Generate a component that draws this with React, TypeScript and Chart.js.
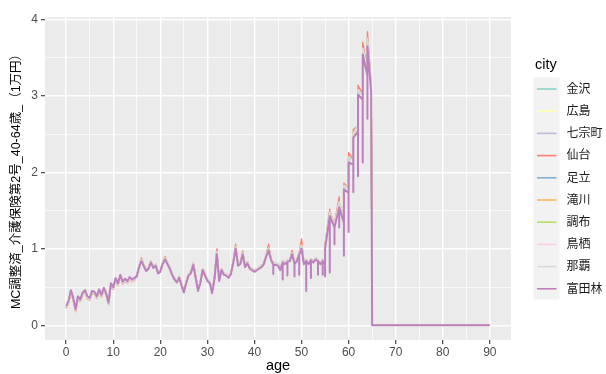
import React, { useEffect, useRef } from 'react';
import { Chart, registerables } from 'chart.js';

Chart.register(...registerables);

const cities = ['金沢', '広島', '七宗町', '仙台', '足立', '滝川', '調布', '鳥栖', '那覇', '富田林'];
const cityColors = ['#8DD3C7', '#FFFFB3', '#BEBADA', '#FB8072', '#80B1D3', '#FDB462', '#B3DE69', '#FCCDE5', '#D9D9D9', '#BC80BD'];

const ages = [
  0, 0.5, 1, 1.5, 2, 2.5, 3, 3.5, 4, 4.5,
  5, 5.5, 6, 6.5, 7, 7.5, 8, 8.5, 9, 9.5,
  10, 10.5, 11, 11.5, 12, 12.5, 13, 13.5, 14, 14.5,
  15, 15.5, 16, 16.5, 17, 17.5, 18, 18.5, 19, 19.5,
  20, 20.5, 21, 21.5, 22, 22.5, 23, 23.5, 24, 24.5,
  25, 25.5, 26, 26.5, 27, 27.5, 28, 28.5, 29, 29.5,
  30, 30.5, 31, 31.5, 32, 32.5, 33, 33.5, 34, 34.5,
  35, 35.5, 36, 36.5, 37, 37.5, 38, 38.5, 39, 39.5,
  40, 40.5, 41, 41.5, 42, 42.5, 43, 43.5, 44, 44.5,
  45, 45.5, 46, 46.5, 47, 47.5, 48, 48.5, 49, 49.5,
  50, 50.5, 51, 51.5, 52, 52.5, 53, 53.5, 54, 54.5,
  55, 55, 56, 56, 57, 57, 58, 58, 59, 59, 60, 60, 61, 61, 62, 62, 63, 63, 64, 64, 64.8, 65,
  70, 75, 80, 85, 90,
];

// 富田林 (drawn on top)
const tondabayashiValues = [
  0.25, 0.32, 0.46, 0.36, 0.21, 0.38, 0.34, 0.43, 0.46, 0.38,
  0.36, 0.45, 0.44, 0.38, 0.47, 0.40, 0.49, 0.42, 0.30, 0.55,
  0.50, 0.62, 0.55, 0.66, 0.57, 0.61, 0.58, 0.63, 0.60, 0.62,
  0.64, 0.76, 0.84, 0.77, 0.71, 0.74, 0.82, 0.75, 0.78, 0.68,
  0.70, 0.80, 0.86, 0.80, 0.74, 0.66, 0.60, 0.56, 0.62, 0.52,
  0.43, 0.55, 0.65, 0.68, 0.79, 0.62, 0.45, 0.55, 0.72, 0.65,
  0.58, 0.55, 0.42, 0.60, 0.93, 0.58, 0.72, 0.66, 0.65, 0.62,
  0.67, 0.82, 1.00, 0.78, 0.80, 0.93, 0.76, 0.81, 0.74, 0.72,
  0.70, 0.72, 0.74, 0.76, 0.80, 0.90, 0.98, 0.86, 0.79, 0.79,
  0.78, 0.72, 0.82, 0.80, 0.83, 0.84, 0.93, 0.80, 0.84, 0.92,
  1.00, 0.80, 0.84, 0.80, 0.85, 0.82, 0.86, 0.84, 0.80, 0.84,
  0.80, 1.00, 1.43, 1.43, 1.28, 1.28, 1.54, 1.54, 1.34, 1.78, 1.73, 2.13, 2.10, 2.45, 2.54, 3.02, 2.95, 3.54, 3.26, 3.65, 3.05, 0,
  0, 0, 0, 0, 0,
];
// 富田林 short downward spikes
const tondaSpikeAges = [44, 46, 47, 48.5, 49.5, 51, 52, 53.5, 54.5, 55, 56, 57, 58, 59, 60, 61, 62, 63, 64];
const tondaSpikeLows = [0.67, 0.60, 0.65, 0.64, 0.66, 0.45, 0.62, 0.66, 0.66, 0.64, 0.69, 1.06, 1.28, 0.91, 1.22, 1.74, 1.95, 2.13, 2.70];

// 仙台 (tops out above the others at the peaks)
const sendaiValues = [
  0.22, 0.29, 0.43, 0.33, 0.18, 0.35, 0.31, 0.40, 0.43, 0.35,
  0.33, 0.42, 0.41, 0.35, 0.44, 0.37, 0.46, 0.39, 0.27, 0.52,
  0.47, 0.59, 0.52, 0.63, 0.54, 0.58, 0.55, 0.60, 0.57, 0.59,
  0.66, 0.78, 0.88, 0.79, 0.73, 0.76, 0.84, 0.77, 0.80, 0.70,
  0.72, 0.82, 0.90, 0.82, 0.76, 0.68, 0.62, 0.58, 0.64, 0.54,
  0.45, 0.57, 0.67, 0.70, 0.82, 0.64, 0.47, 0.57, 0.74, 0.67,
  0.60, 0.57, 0.44, 0.62, 1.00, 0.60, 0.74, 0.68, 0.67, 0.64,
  0.69, 0.84, 1.06, 0.80, 0.82, 0.97, 0.78, 0.83, 0.76, 0.74,
  0.72, 0.74, 0.76, 0.78, 0.82, 0.92, 1.06, 0.88, 0.81, 0.81,
  0.80, 0.74, 0.84, 0.82, 0.85, 0.86, 0.98, 0.82, 0.86, 0.95,
  1.13, 0.82, 0.86, 0.82, 0.87, 0.84, 0.88, 0.86, 0.82, 0.86,
  0.82, 1.06, 1.52, 1.50, 1.32, 1.33, 1.68, 1.61, 1.40, 1.86, 1.79, 2.26, 2.16, 2.56, 2.61, 3.14, 3.02, 3.70, 3.34, 3.84, 3.12, 0,
  0, 0, 0, 0, 0,
];

// the remaining cities (lines overlap almost completely)
const otherCityValues = [
  0.23, 0.30, 0.44, 0.34, 0.19, 0.36, 0.32, 0.41, 0.44, 0.36,
  0.34, 0.43, 0.42, 0.36, 0.45, 0.38, 0.47, 0.40, 0.28, 0.53,
  0.48, 0.60, 0.53, 0.64, 0.55, 0.59, 0.56, 0.61, 0.58, 0.60,
  0.66, 0.78, 0.86, 0.79, 0.73, 0.76, 0.84, 0.77, 0.80, 0.70,
  0.72, 0.82, 0.88, 0.82, 0.76, 0.68, 0.62, 0.58, 0.64, 0.54,
  0.45, 0.57, 0.67, 0.70, 0.81, 0.64, 0.47, 0.57, 0.74, 0.67,
  0.60, 0.57, 0.44, 0.62, 0.96, 0.60, 0.74, 0.68, 0.67, 0.64,
  0.69, 0.84, 1.03, 0.80, 0.82, 0.95, 0.78, 0.83, 0.76, 0.74,
  0.72, 0.74, 0.76, 0.78, 0.82, 0.92, 1.01, 0.88, 0.81, 0.81,
  0.80, 0.74, 0.84, 0.82, 0.85, 0.86, 0.95, 0.82, 0.86, 0.94,
  1.05, 0.82, 0.86, 0.82, 0.87, 0.84, 0.88, 0.86, 0.82, 0.86,
  0.82, 1.04, 1.48, 1.48, 1.32, 1.32, 1.61, 1.61, 1.40, 1.83, 1.79, 2.20, 2.16, 2.51, 2.61, 3.08, 3.02, 3.62, 3.34, 3.75, 3.12, 0,
  0, 0, 0, 0, 0,
];

const xTickValues = [0, 5, 10, 15, 20, 25, 30, 35, 40, 45, 50, 55, 60, 65, 70, 75, 80, 85, 90];
const yTickValues = [0, 0.5, 1, 1.5, 2, 2.5, 3, 3.5, 4];

const FONT = "'Liberation Sans', 'Noto Sans CJK JP', Arial, sans-serif";

function buildPoints(values: number[], spikeAges?: number[], spikeLows?: number[]) {
  const pts: { x: number; y: number }[] = [];
  const used: boolean[] = [];
  ages.forEach((a, i) => {
    pts.push({ x: a, y: values[i] });
    if (spikeAges && spikeLows) {
      const k = spikeAges.indexOf(a);
      if (k >= 0 && !used[k]) {
        used[k] = true;
        pts.push({ x: a, y: spikeLows[k] });
        pts.push({ x: a, y: values[i] });
      }
    }
  });
  return pts;
}

const panelPlugin = {
  id: 'ggPanel',
  beforeDraw(chart: any) {
    const { ctx, chartArea: a } = chart;
    ctx.save();
    ctx.fillStyle = '#FFFFFF';
    ctx.fillRect(0, 0, chart.width, chart.height);
    ctx.fillStyle = '#EBEBEB';
    ctx.fillRect(a.left, a.top, a.right - a.left, a.bottom - a.top);
    ctx.restore();
  },
  afterDraw(chart: any) {
    const { ctx } = chart;
    ctx.save();
    ctx.fillStyle = '#000000';
    ctx.font = `14.5px ${FONT}`;
    ctx.textAlign = 'left';
    ctx.textBaseline = 'alphabetic';
    ctx.fillText('city', 535, 68.5);
    const keyX = 533.5;
    const keyTop = 77.5;
    const step = 22.2;
    ctx.fillStyle = '#F2F2F2';
    ctx.fillRect(keyX, keyTop, 26, step * cities.length);
    cities.forEach((c, i) => {
      const y = 89 + i * step;
      ctx.strokeStyle = cityColors[i];
      ctx.lineWidth = 1.6;
      ctx.beginPath();
      ctx.moveTo(537, y);
      ctx.lineTo(556.5, y);
      ctx.stroke();
      ctx.fillStyle = '#1A1A1A';
      ctx.font = `12px ${FONT}`;
      ctx.textBaseline = 'middle';
      ctx.fillText(c, 566.5, y + 0.5);
    });
    ctx.restore();
  },
};

export default function App() {
  const ref = useRef<HTMLCanvasElement | null>(null);
  useEffect(() => {
    if (!ref.current) return;
    const seriesByCity = [
      otherCityValues, otherCityValues, otherCityValues, sendaiValues, otherCityValues,
      otherCityValues, otherCityValues, otherCityValues, otherCityValues, tondabayashiValues,
    ];
    const last = cities.length - 1;
    const datasets = cities.map((c, i) => ({
      label: c,
      data: i === last
        ? buildPoints(seriesByCity[i], tondaSpikeAges, tondaSpikeLows)
        : buildPoints(seriesByCity[i]),
      borderColor: cityColors[i],
      backgroundColor: cityColors[i],
      borderWidth: i === last ? 2 : 1.4,
      pointRadius: 0,
      tension: 0,
      fill: false,
      borderJoinStyle: 'round' as const,
      order: cities.length - i,
    }));
    const chart = new Chart(ref.current, {
      type: 'line',
      data: { datasets },
      plugins: [panelPlugin],
      options: {
        animation: false,
        responsive: false,
        devicePixelRatio: 1,
        layout: { padding: { left: 0, top: 17, right: 95, bottom: 0 } },
        plugins: { legend: { display: false }, tooltip: { enabled: false } },
        scales: {
          x: {
            type: 'linear',
            min: -4.5,
            max: 94.5,
            afterFit: (s: any) => { s.height = 34; },
            afterBuildTicks: (s: any) => { s.ticks = xTickValues.map((v) => ({ value: v })); },
            grid: {
              color: '#FFFFFF',
              lineWidth: (c: any) => (c.tick && c.tick.value % 10 === 0 ? 1.4 : 0.7),
              tickLength: 4,
              tickWidth: 1.1,
              tickColor: (c: any) => (c.tick && c.tick.value % 10 === 0 ? '#333333' : 'rgba(0,0,0,0)'),
            },
            border: { display: false },
            ticks: {
              autoSkip: false,
              maxRotation: 0,
              padding: 1,
              color: '#4D4D4D',
              font: { family: FONT, size: 12 },
              callback: (v: any) => (Number(v) % 10 === 0 ? String(v) : ''),
            },
            title: {
              display: true,
              text: 'age',
              color: '#000000',
              font: { family: FONT, size: 14.5 },
              padding: { top: 0, bottom: -1 },
            },
          },
          y: {
            type: 'linear',
            min: -0.192,
            max: 4.032,
            afterFit: (s: any) => { s.width = 45; },
            afterBuildTicks: (s: any) => { s.ticks = yTickValues.map((v) => ({ value: v })); },
            grid: {
              color: '#FFFFFF',
              lineWidth: (c: any) => (c.tick && Number.isInteger(c.tick.value) ? 1.4 : 0.7),
              tickLength: 4,
              tickWidth: 1.1,
              tickColor: (c: any) => (c.tick && Number.isInteger(c.tick.value) ? '#333333' : 'rgba(0,0,0,0)'),
            },
            border: { display: false },
            ticks: {
              autoSkip: false,
              padding: 3,
              color: '#4D4D4D',
              font: { family: FONT, size: 12 },
              callback: (v: any) => (Number.isInteger(Number(v)) ? String(v) : ''),
            },
            title: {
              display: true,
              text: 'MC調整済_介護保険第2号_40-64歳_（1万円）',
              color: '#000000',
              font: { family: FONT, size: 12.5 },
              padding: { top: 9, bottom: 0 },
            },
          },
        },
      },
    });
    return () => chart.destroy();
  }, []);
  return (
    <div style={{ position: 'fixed', left: 0, top: 0, width: 606, height: 374, background: '#FFFFFF' }}>
      <canvas ref={ref} width={606} height={374} style={{ width: 606, height: 374, display: 'block' }} />
    </div>
  );
}
